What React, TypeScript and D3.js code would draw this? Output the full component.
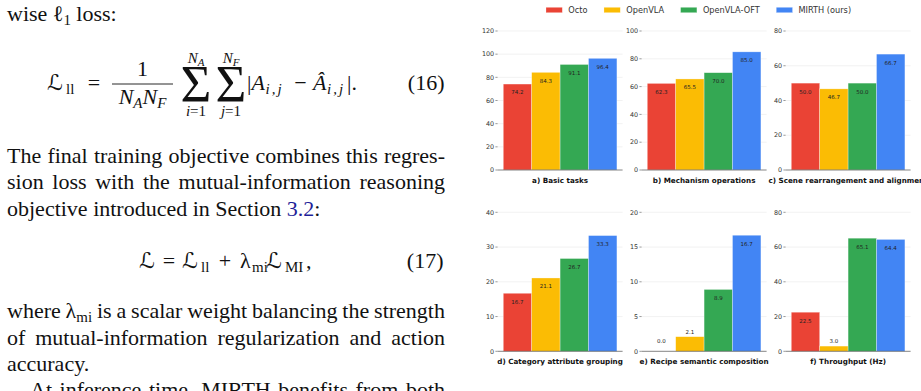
import React, { useEffect, useRef } from 'react';
import * as d3 from 'd3';

const methods = ['Octo', 'OpenVLA', 'OpenVLA-OFT', 'MIRTH (ours)'];
const methodColors = ['#EA4335', '#FBBC04', '#34A853', '#4285F4'];

const panelTitles = [
    'a) Basic tasks',
    'b) Mechanism operations',
    'c) Scene rearrangement and alignment',
    'd) Category attribute grouping',
    'e) Recipe semantic composition',
    'f) Throughput (Hz)',
];
const basicTasks = [74.2, 84.3, 91.1, 96.4];
const mechanismOps = [62.3, 65.5, 70.0, 85.0];
const sceneRearrangement = [50.0, 46.7, 50.0, 66.7];
const categoryGrouping = [16.7, 21.1, 26.7, 33.3];
const recipeComposition = [0.0, 2.1, 8.9, 16.7];
const throughputHz = [22.5, 3.0, 65.1, 64.4];
const panelValues = [basicTasks, mechanismOps, sceneRearrangement, categoryGrouping, recipeComposition, throughputHz];
const panelYMax = [120, 100, 80, 40, 20, 80];
const panelYStep = [20, 20, 20, 10, 5, 20];

// body text of the column, one entry per typeset line
// "_x" marks a subscript, "[..]" a cross-reference link
const paraBefore = ['wise ℓ_1 loss:'];
const paraMiddle = [
    'The final training objective combines this regres-',
    'sion loss with the mutual-information reasoning',
    'objective introduced in Section [3.2]:',
];
const paraAfter = [
    'where λ_mi is a scalar weight balancing the strength',
    'of mutual-information regularization and action',
    'accuracy.',
];
const paraNext = ['At inference time, MIRTH benefits from both'];

const W = 921, H = 391;
const serif = '"Liberation Serif", "DejaVu Serif", "DejaVu Sans", serif';
const sans = '"DejaVu Sans", sans-serif';
const linkColor = '#1f1f99';

type Run = { t: string; sub?: boolean; color?: string };

const parseWord = (w: string): Run[] => {
    const runs: Run[] = [];
    const re = /\[([^\]]+)\]|_(\w+)|([^\[_]+)/g;
    let m: RegExpExecArray | null;
    while ((m = re.exec(w))) {
        if (m[1]) runs.push({ t: m[1], color: linkColor });
        else if (m[2]) runs.push({ t: m[2], sub: true });
        else runs.push({ t: m[3] });
    }
    return runs;
};

const setLine = (g: any, line: string, x0: number, x1: number, y: number, justify: boolean) => {
    const words = line.split(' ');
    const nodes = words.map(w => {
        const t = g.append('text').attr('y', y);
        let inSub = false;
        parseWord(w).forEach(r => {
            const ts = t.append('tspan').text(r.t);
            if (r.color) ts.attr('fill', r.color);
            if (r.sub && !inSub) { ts.attr('font-size', '0.68em').attr('dy', 4); inSub = true; }
            else if (!r.sub && inSub) { ts.attr('dy', -4); inSub = false; }
        });
        return t;
    });
    const widths = nodes.map(t => (t.node() as SVGTextElement).getComputedTextLength());
    const total = d3.sum(widths);
    const gap = justify && words.length > 1 ? (x1 - x0 - total) / (words.length - 1) : 5.5;
    let x = x0;
    nodes.forEach((t, i) => {
        t.attr('x', x);
        x += widths[i] + gap;
    });
};

const drawParagraph = (g: any, lines: string[], x0: number, x1: number, y0: number, last: boolean, indent = 0) => {
    lines.forEach((line, i) => {
        const justify = !(last && i === lines.length - 1);
        setLine(g, line, x0 + (i === 0 ? indent : 0), x1, y0 + i * 26.5, justify);
    });
};

// small helper for hand-set math pieces
const mtext = (g: any, s: string, x: number, y: number, opts: { size?: number; italic?: boolean; anchor?: string } = {}) =>
    g.append('text')
        .attr('x', x).attr('y', y)
        .attr('font-size', opts.size || 22)
        .attr('font-style', opts.italic ? 'italic' : 'normal')
        .attr('text-anchor', opts.anchor || 'start')
        .text(s);

const drawText = (svg: any) => {
    const g = svg.append('g').attr('font-family', serif).attr('font-size', 22).attr('fill', '#111');

    drawParagraph(g, paraBefore, 7, 445, 21, true);

    // equation (16)
    const b = 89.5;
    mtext(g, 'ℒ', 47, b);
    mtext(g, 'll', 66, b + 4, { size: 15 });
    mtext(g, '=', 94, b, { anchor: 'middle' });
    mtext(g, '1', 142.5, b - 14, { anchor: 'middle' });
    g.append('line').attr('x1', 112).attr('x2', 173).attr('y1', b - 5.5).attr('y2', b - 5.5)
        .attr('stroke', '#111').attr('stroke-width', 0.9);
    const den = g.append('text').attr('x', 142.5).attr('y', b + 14.5).attr('text-anchor', 'middle').attr('font-style', 'italic');
    den.append('tspan').text('N');
    den.append('tspan').attr('font-size', 15).attr('dy', 4).text('A');
    den.append('tspan').attr('dy', -4).text('N');
    den.append('tspan').attr('font-size', 15).attr('dy', 4).text('F');
    [[196, 'N', 'A', 'i'], [231, 'N', 'F', 'j']].forEach(([cx, top, topSub, idx]) => {
        mtext(g, 'Σ', cx as number, b + 12, { size: 53, anchor: 'middle' });
        const up = g.append('text').attr('x', cx).attr('y', b - 27).attr('text-anchor', 'middle')
            .attr('font-size', 15).attr('font-style', 'italic');
        up.append('tspan').text(top as string);
        up.append('tspan').attr('font-size', 11).attr('dy', 3).text(topSub as string);
        const lo = g.append('text').attr('x', cx).attr('y', b + 26).attr('text-anchor', 'middle').attr('font-size', 15);
        lo.append('tspan').attr('font-style', 'italic').text(idx as string);
        lo.append('tspan').text('=1');
    });
    mtext(g, '|', 247, b);
    mtext(g, 'A', 251.5, b, { italic: true });
    mtext(g, 'i,j', 265.5, b + 4, { size: 15, italic: true }).attr('letter-spacing', 2);
    mtext(g, '−', 300.5, b, { anchor: 'middle' });
    mtext(g, 'Â', 313, b, { italic: true });
    mtext(g, 'i,j', 327, b + 4, { size: 15, italic: true }).attr('letter-spacing', 2);
    mtext(g, '|.', 347, b);
    mtext(g, '(16)', 444.5, b, { anchor: 'end' });

    drawParagraph(g, paraMiddle, 7, 445, 162.5, true);

    // equation (17)
    const c = 268;
    mtext(g, 'ℒ', 139, c);
    mtext(g, '=', 169, c, { anchor: 'middle' });
    mtext(g, 'ℒ', 182, c);
    mtext(g, 'll', 201, c + 4, { size: 15 });
    mtext(g, '+', 225, c, { anchor: 'middle' });
    mtext(g, 'λ', 240, c);
    mtext(g, 'mi', 252, c + 4, { size: 15 });
    mtext(g, 'ℒ', 266, c);
    mtext(g, 'MI', 285, c + 4, { size: 15 });
    mtext(g, ',', 306, c);
    mtext(g, '(17)', 443.5, c, { anchor: 'end' });

    drawParagraph(g, paraAfter, 7, 445, 318, true);
    drawParagraph(g, paraNext, 7, 445, 397, false, 23);
};

const colLeft = [497.6, 641.6, 785.6];
const axW = 125;
const rowTop = [31, 212.3];
const rowBottom = [170, 351.3];

const drawCharts = (svg: any) => {
    const root = svg.append('g').attr('font-family', sans);

    panelValues.forEach((values, i) => {
        const left = colLeft[i % 3];
        const top = rowTop[Math.floor(i / 3)];
        const bottom = rowBottom[Math.floor(i / 3)];
        const yMax = panelYMax[i];

        const x = d3.scaleBand<string>().domain(methods).range([left, left + axW]).paddingInner(0).paddingOuter(0.2);
        const y = d3.scaleLinear().domain([0, yMax]).range([bottom, top]);
        const ticks = d3.range(0, yMax + 0.001, panelYStep[i]);

        const g = root.append('g');

        g.selectAll('.grid').data(ticks.filter(t => t > 0)).enter().append('line')
            .attr('x1', left).attr('x2', left + axW)
            .attr('y1', d => y(d)).attr('y2', d => y(d))
            .attr('stroke', '#ececec').attr('stroke-width', 0.7);

        g.selectAll('.bar').data(values).enter().append('rect')
            .attr('x', (d, j) => x(methods[j])!)
            .attr('width', x.bandwidth())
            .attr('y', d => y(d))
            .attr('height', d => bottom - y(d))
            .attr('fill', (d, j) => methodColors[j])
            .attr('stroke', '#fff').attr('stroke-opacity', 0.5).attr('stroke-width', 0.6);

        // labels sit inside the bar unless the bar is too short
        g.selectAll('.val').data(values).enter().append('text')
            .attr('x', (d, j) => x(methods[j])! + x.bandwidth() / 2)
            .attr('y', d => {
                const h = bottom - y(d);
                if (h > 20) return y(d) + 8.5;
                return y(Math.max(d, yMax * 0.035)) - 5;
            })
            .attr('dy', '0.35em')
            .attr('text-anchor', 'middle')
            .attr('font-size', 5.5)
            .attr('fill', '#222')
            .text(d => d3.format('.1f')(d));

        g.append('line')
            .attr('x1', left).attr('x2', left + axW)
            .attr('y1', bottom).attr('y2', bottom)
            .attr('stroke', '#666').attr('stroke-width', 0.8);

        g.selectAll('.tick').data(ticks).enter().append('line')
            .attr('x1', left - 2.2).attr('x2', left)
            .attr('y1', d => y(d)).attr('y2', d => y(d))
            .attr('stroke', '#555').attr('stroke-width', 0.6);

        g.selectAll('.tickLabel').data(ticks).enter().append('text')
            .attr('x', left - 3.5)
            .attr('y', d => y(d))
            .attr('dy', '0.35em')
            .attr('text-anchor', 'end')
            .attr('font-size', 6.4)
            .attr('fill', '#333')
            .text(d => d);

        g.append('text')
            .attr('x', left + axW / 2)
            .attr('y', bottom + 12.8)
            .attr('text-anchor', 'middle')
            .attr('font-size', 7.2)
            .attr('font-weight', 'bold')
            .attr('fill', '#111')
            .text(panelTitles[i]);
    });

    // legend row above the panels
    const legend = root.append('g');
    let lx = 546;
    methods.forEach((m, j) => {
        legend.append('rect')
            .attr('x', lx).attr('y', 7.3).attr('width', 16.3).attr('height', 5.4)
            .attr('fill', methodColors[j]).attr('stroke', '#fff').attr('stroke-opacity', 0.5).attr('stroke-width', 0.5);
        const t = legend.append('text')
            .attr('x', lx + 22.3).attr('y', 12.9)
            .attr('font-size', 8.2).attr('fill', '#333')
            .text(m);
        lx += 22.3 + (t.node() as SVGTextElement).getComputedTextLength() + 16.5;
    });
};

const createFigure = (container: SVGSVGElement) => {
    d3.select(container).selectAll('*').remove();
    const svg = d3.select(container).attr('width', W).attr('height', H);
    svg.append('rect').attr('width', W).attr('height', H).attr('fill', '#fff');
    drawText(svg);
    drawCharts(svg);
};

const App = () => {
    const ref = useRef<SVGSVGElement>(null);

    useEffect(() => {
        if (ref.current) createFigure(ref.current);
    }, []);

    return (
        <svg ref={ref} width={W} height={H} style={{ position: 'absolute', left: 0, top: 0, display: 'block' }} />
    );
};

export default App;
